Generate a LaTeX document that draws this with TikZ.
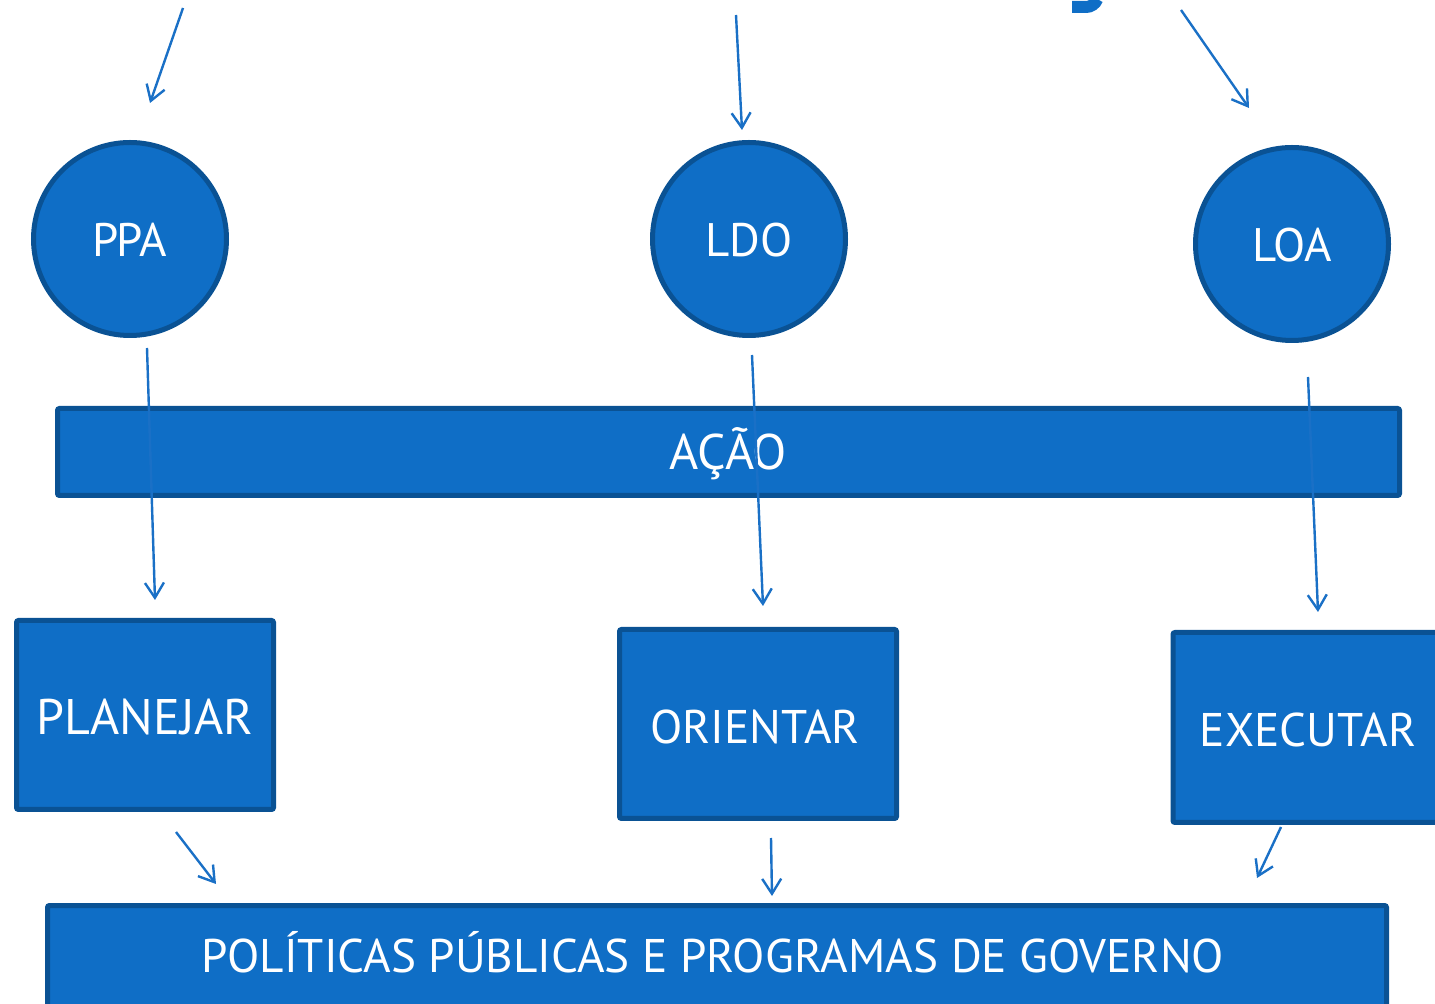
\documentclass[tikz,border=0pt]{standalone}
\usepackage{fontspec}
\setmainfont{PT Sans}
\usetikzlibrary{arrows.meta}
\definecolor{boxfill}{HTML}{0F6EC6}
\definecolor{boxline}{HTML}{0A5294}
\definecolor{arrowc}{HTML}{1A70C6}
\tikzset{
  shapebase/.style={fill=boxfill, draw=boxline, line width=2.5pt, text=white,
    font=\fontsize{25}{28}\selectfont, text height=17.5pt, text depth=0pt, inner sep=0pt},
  circ/.style={shapebase, circle, minimum size=96.5pt, font=\fontsize{23.5}{28}\selectfont},
  boxnode/.style={shapebase, rectangle, rounded corners=1pt},
  lbl/.style={text=white, font=\fontsize{23.6}{28}\selectfont, text height=17pt, text depth=0pt, inner sep=0pt},
  conn/.style={draw=arrowc, line width=1.2pt, -{Straight Barb[length=7.5pt,width=9.5pt,line width=1.2pt]}}
}
\begin{document}
\begin{tikzpicture}[x=0.5pt,y=-0.5pt]
\useasboundingbox (0,0) rectangle (1435,1004);
% fragment of a title glyph cut at the top edge
\draw[boxfill, line width=6pt] (1072,7) -- (1086,7) arc[start angle=90, end angle=20, radius=12] ;
% circles
\node[circ] (ppa) at (130,239) {P\kern-1.5pt P\kern-1.5pt A};
\node[circ] (ldo) at (749,239) {LDO};
\node[circ] (loa) at (1292,244) {LOA};
% boxes
\node[boxnode, minimum width=671pt, minimum height=43.5pt] (acao) at (728.5,452) {AÇÃO};
\node[boxnode, minimum width=128.5pt, minimum height=94.5pt, text height=19.5pt] (plan) at (145,715) {PLANEJAR};
\node[boxnode, minimum width=138.5pt, minimum height=94.5pt] (orient) at (758,724) {};
\node[lbl] (orientt) at (755,727) {ORIENTAR};
\node[boxnode, minimum width=135pt, minimum height=95pt] (exec) at (1308,727.5) {};
\node[lbl] (exect) at (1308,730) {EXECUTAR};
\node[boxnode, minimum width=669.5pt, minimum height=52.5pt] (pol) at (717,958) {};
\node[lbl] (polt) at (713,955) {POLÍTICAS PÚBLICAS E PROGRAMAS DE GOVERNO};
% coordinates for connector ends
\coordinate (t1) at (183,8);   \coordinate (t1e) at (150,103);
\coordinate (t2) at (736,15);  \coordinate (t2e) at (742,130);
\coordinate (t3) at (1181,10); \coordinate (t3e) at (1249,108);
\coordinate (b1) at (147,348); \coordinate (b1e) at (155,600);
\coordinate (b2) at (752,355); \coordinate (b2e) at (763,606);
\coordinate (b3) at (1308,377);\coordinate (b3e) at (1318,612);
\coordinate (c1) at (176,832); \coordinate (c1e) at (216,884);
\coordinate (c2) at (771,838); \coordinate (c2e) at (772,896);
\coordinate (c3) at (1281,827);\coordinate (c3e) at (1257,878);
% connectors
\draw[conn] (t1) -- (t1e);
\draw[conn] (t2) -- (t2e);
\draw[conn] (t3) -- (t3e);
\draw[conn] (b1) -- (b1e);
\draw[conn] (b2) -- (b2e);
\draw[conn] (b3) -- (b3e);
\draw[conn] (c1) -- (c1e);
\draw[conn] (c2) -- (c2e);
\draw[conn] (c3) -- (c3e);
\end{tikzpicture}
\end{document}
